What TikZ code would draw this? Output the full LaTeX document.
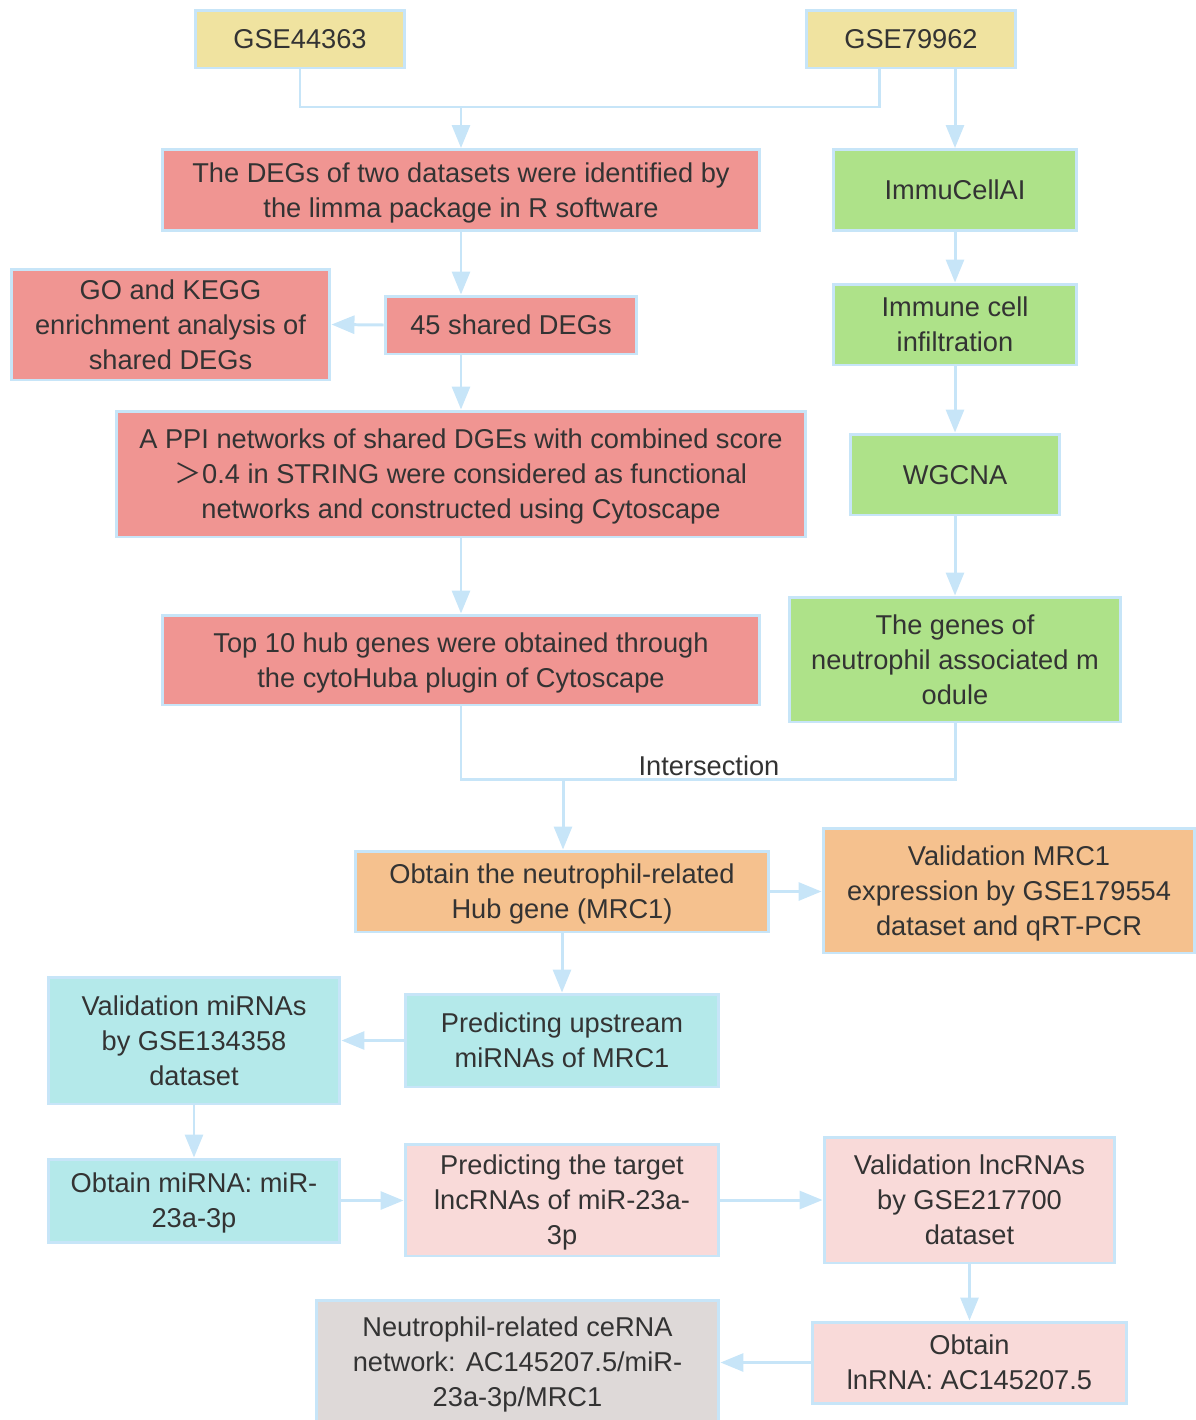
\documentclass[tikz,border=0pt]{standalone}
\usepackage{fontspec}
\setmainfont{Liberation Sans}
\newfontfamily\cjk{Noto Sans CJK SC}
\usetikzlibrary{arrows.meta,calc}
\definecolor{bordc}{HTML}{C7E5F8}
\definecolor{txtc}{HTML}{333333}
\definecolor{cyel}{HTML}{F0E3A0}
\definecolor{cred}{HTML}{F09592}
\definecolor{cgrn}{HTML}{AEE289}
\definecolor{corg}{HTML}{F5C18E}
\definecolor{ccyn}{HTML}{B4E9EA}
\definecolor{cpnk}{HTML}{F9DAD9}
\definecolor{cgry}{HTML}{DED9D8}
\tikzset{
  box/.style={draw=bordc, line width=1.7pt, align=center, text=txtc, inner sep=2pt,
    text depth=-2.3pt, font=\fontsize{15.5}{19.9}\selectfont},
  arr/.style={draw=bordc, line width=1.7pt, -{Triangle[width=0.36cm,length=0.46cm]}},
  ln/.style={draw=bordc, line width=1.7pt},
}
\begin{document}
\begin{tikzpicture}[x=0.02cm,y=-0.02cm]
\useasboundingbox (0,0) rectangle (1196,1420);
\node[box, fill=cyel, minimum width=4.2cm, minimum height=1.16cm] (g1) at (300,39) {GSE44363};
\node[box, fill=cyel, minimum width=4.2cm, minimum height=1.16cm] (g2) at (911,39) {GSE79962};
\node[box, fill=cred, minimum width=11.96cm, minimum height=1.62cm] (degs) at (461,190) {The DEGs of two datasets were identified by\\the limma package in R software};
\node[box, fill=cgrn, minimum width=4.88cm, minimum height=1.62cm] (immu) at (955,190) {ImmuCellAI};
\node[box, fill=cred, minimum width=6.38cm, minimum height=2.22cm] (gokegg) at (170.5,324.5) {GO and KEGG\\enrichment analysis of\\shared DEGs};
\node[box, fill=cred, minimum width=5.04cm, minimum height=1.16cm] (shared) at (511,325) {45 shared DEGs};
\node[box, fill=cgrn, minimum width=4.88cm, minimum height=1.62cm] (infil) at (955,324.5) {Immune cell\\infiltration};
\node[box, fill=cred, minimum width=13.8cm, minimum height=2.52cm] (ppi) at (461,474) {A PPI networks of shared DGEs with combined score\\{\cjk ＞}0.4 in STRING were considered as functional\\networks and constructed using Cytoscape};
\node[box, fill=cgrn, minimum width=4.2cm, minimum height=1.62cm] (wgcna) at (955,474.5) {WGCNA};
\node[box, fill=cred, minimum width=11.96cm, minimum height=1.8cm] (top10) at (461,660) {Top 10 hub genes were obtained through\\the cytoHuba plugin of Cytoscape};
\node[box, fill=cgrn, minimum width=6.64cm, minimum height=2.5cm] (genes) at (955,659.5) {The genes of\\neutrophil associated m\\odule};
\node[box, fill=corg, minimum width=8.28cm, minimum height=1.62cm] (mrc1) at (562,891.5) {Obtain the neutrophil-related\\Hub gene (MRC1)};
\node[box, fill=corg, minimum width=7.44cm, minimum height=2.5cm] (valmrc1) at (1009,890.5) {Validation MRC1\\expression by GSE179554\\dataset and qRT-PCR};
\node[box, fill=ccyn, minimum width=6.28cm, minimum height=1.86cm] (upstream) at (562,1040.5) {Predicting upstream\\miRNAs of MRC1};
\node[box, fill=ccyn, minimum width=5.84cm, minimum height=2.54cm] (valmir) at (194,1040.5) {Validation miRNAs\\by GSE134358\\dataset};
\node[box, fill=ccyn, minimum width=5.84cm, minimum height=1.66cm] (obmir) at (194,1200.5) {Obtain miRNA: miR-\\23a-3p};
\node[box, fill=cpnk, minimum width=6.28cm, minimum height=2.24cm] (target) at (562,1200) {Predicting the target\\lncRNAs of miR-23a-\\3p};
\node[box, fill=cpnk, minimum width=5.82cm, minimum height=2.52cm] (vallnc) at (969.5,1200) {Validation lncRNAs\\by GSE217700\\dataset};
\node[box, fill=cpnk, minimum width=6.3cm, minimum height=1.62cm] (oblnc) at (969.5,1362.5) {Obtain\\lnRNA: AC145207.5};
\node[box, fill=cgry, minimum width=8.06cm, minimum height=2.48cm] (cerna) at (517.5,1362) {Neutrophil-related ceRNA\\network: AC145207.5/miR-\\23a-3p/MRC1};
% connectors
\coordinate (j1) at (461,107);
\coordinate (g2l) at (879,68);
\coordinate (g2r) at (955,68);
\draw[ln] (g1.south) |- (j1);
\draw[ln] (g2l) |- (j1);
\draw[arr] (j1) -- (degs.north);
\draw[arr] (g2r) -- (immu.north);
\draw[arr] (degs.south) -- (degs.south |- shared.north);
\draw[arr] (shared.west) -- (gokegg.east);
\draw[arr] (degs.south |- shared.south) -- (ppi.north);
\draw[arr] (ppi.south) -- (top10.north);
\draw[arr] (immu.south) -- (infil.north);
\draw[arr] (infil.south) -- (wgcna.north);
\draw[arr] (wgcna.south) -- (genes.north);
\coordinate (j2) at (563,779);
\draw[ln] (top10.south) |- (j2);
\draw[ln] (genes.south) |- (j2);
\node[text=txtc, font=\fontsize{15.5}{19.9}\selectfont, anchor=south, inner sep=1pt] (inter) at (709,778) {Intersection};
\draw[arr] (j2) -- (mrc1.north -| j2);
\draw[arr] (mrc1.east) -- (mrc1.east -| valmrc1.west);
\draw[arr] (mrc1.south) -- (upstream.north);
\draw[arr] (upstream.west) -- (upstream.west -| valmir.east);
\draw[arr] (valmir.south) -- (obmir.north);
\draw[arr] (obmir.east) -- (obmir.east -| target.west);
\draw[arr] (target.east) -- (vallnc.west);
\draw[arr] (vallnc.south) -- (oblnc.north);
\draw[arr] (oblnc.west) -- (oblnc.west -| cerna.east);
\end{tikzpicture}
\end{document}
